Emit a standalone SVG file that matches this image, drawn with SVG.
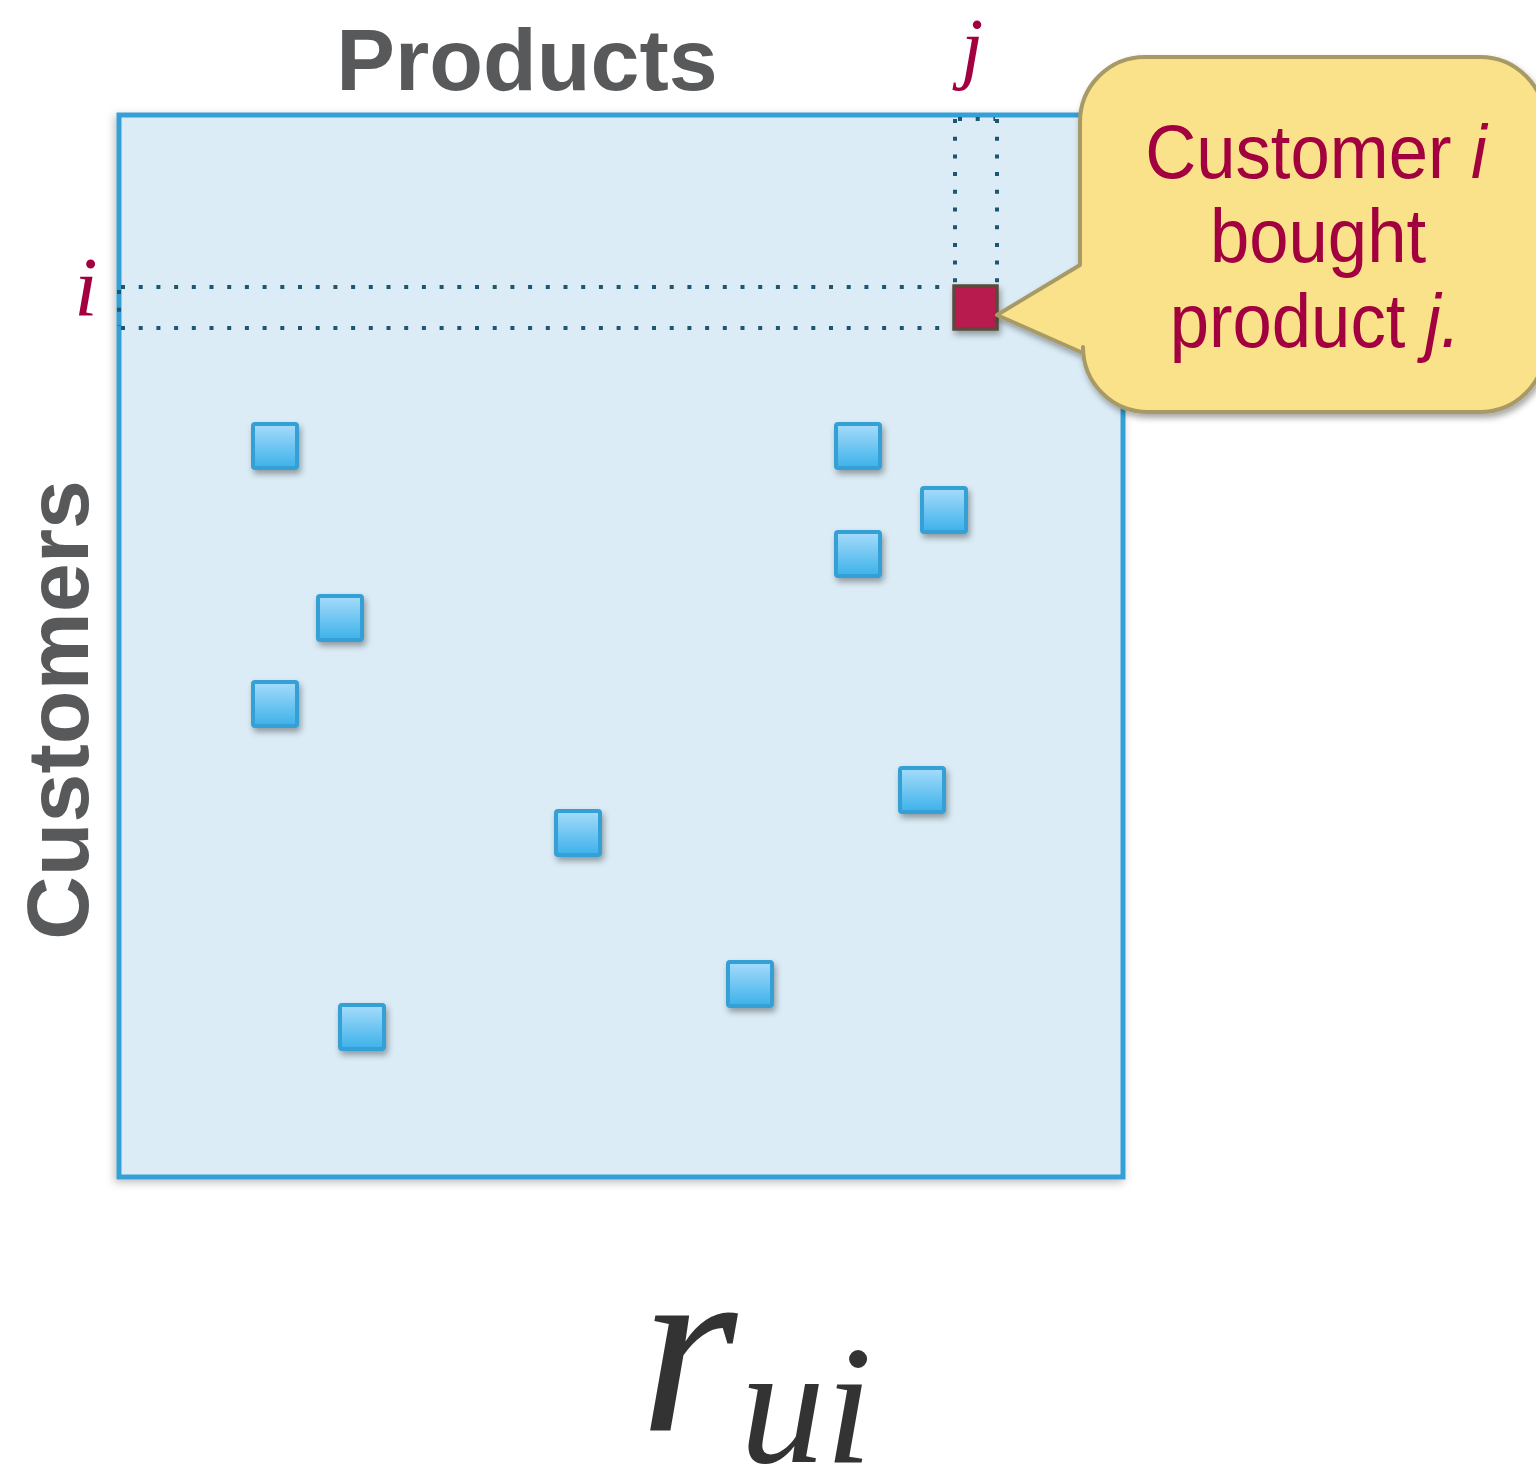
<svg xmlns="http://www.w3.org/2000/svg" xmlns:xlink="http://www.w3.org/1999/xlink" width="1536" height="1476" viewBox="0 0 1536 1476">
<defs>
<style>
.axis{font-family:"Liberation Sans",Arial,sans-serif;font-weight:bold;fill:#58595b;font-size:88px}
.math{font-family:"Liberation Serif","Times New Roman",serif;font-style:italic;fill:#a3003f}
.call{font-family:"Liberation Sans",Arial,sans-serif;fill:#a3003f;font-size:76px}
.dot{stroke:#1d5673;stroke-width:4;stroke-dasharray:4 13.7;fill:none}
.cell{fill:url(#bg);stroke:#35a0d6;stroke-width:4;filter:url(#sh)}
</style>
<linearGradient id="bg" x1="0" y1="0" x2="0" y2="1">
<stop offset="0" stop-color="#a6dcfa"/>
<stop offset="1" stop-color="#3cb1ea"/>
</linearGradient>
<filter id="sh" x="-30%" y="-30%" width="170%" height="170%">
<feDropShadow dx="2" dy="4" stdDeviation="3" flood-color="#000" flood-opacity="0.35"/>
</filter>
<filter id="sh2" x="-10%" y="-10%" width="120%" height="120%">
<feDropShadow dx="-2" dy="3" stdDeviation="4" flood-color="#000" flood-opacity="0.25"/>
</filter>
<rect id="sq" width="44" height="44" rx="2" class="cell"/>
</defs>
<rect width="1536" height="1476" fill="#fff"/>

<g id="matrix">
<rect x="119" y="115" width="1004" height="1062" fill="#dbecf6" stroke="#36a0d6" stroke-width="5" filter="url(#sh2)"/>
</g>

<g id="labels">
<text class="axis" x="527" y="90" text-anchor="middle">Products</text>
<text class="axis" transform="translate(88,710) rotate(-90)" text-anchor="middle">Customers</text>
<text class="math" x="86" y="316" font-size="84" text-anchor="middle">i</text>
<text class="math" x="972" y="74" font-size="80" text-anchor="middle">j</text>
</g>

<g id="guides">
<line class="dot" x1="121" y1="287" x2="952" y2="287"/>
<line class="dot" x1="121" y1="328" x2="952" y2="328"/>
<line class="dot" x1="119" y1="290" x2="119" y2="326"/>
<line class="dot" x1="955" y1="119" x2="955" y2="285"/>
<line class="dot" x1="997" y1="119" x2="997" y2="285"/>
<line class="dot" x1="958" y1="119" x2="995" y2="119"/>
</g>

<g id="cells">
<use xlink:href="#sq" x="253" y="424"/>
<use xlink:href="#sq" x="836" y="424"/>
<use xlink:href="#sq" x="922" y="488"/>
<use xlink:href="#sq" x="836" y="532"/>
<use xlink:href="#sq" x="318" y="596"/>
<use xlink:href="#sq" x="253" y="682"/>
<use xlink:href="#sq" x="900" y="768"/>
<use xlink:href="#sq" x="556" y="811"/>
<use xlink:href="#sq" x="728" y="962"/>
<use xlink:href="#sq" x="340" y="1005"/>
</g>

<g id="target">
<rect x="954" y="286" width="43" height="43" fill="#b81a50" stroke="#5b4b3c" stroke-width="3.5" filter="url(#sh)"/>
</g>

<g id="callout">
<path d="M1145,57 H1480 A65,65 0 0 1 1545,122 V347 A65,65 0 0 1 1480,412 H1148 A65,65 0 0 1 1083,347 V353 L997,315 L1080,265 V122 A65,65 0 0 1 1145,57 Z" fill="#f9e28a" stroke="#a89a66" stroke-width="4" stroke-linejoin="round" filter="url(#sh)"/>
<text class="call" transform="translate(1316,178) scale(0.93,1)" text-anchor="middle">Customer <tspan font-style="italic">i</tspan></text>
<text class="call" transform="translate(1318,262) scale(0.93,1)" text-anchor="middle">bought</text>
<text class="call" transform="translate(1315,347) scale(0.93,1)" text-anchor="middle">product <tspan font-style="italic">j.</tspan></text>
</g>

<g id="formula">
<text x="640" y="1430" font-family="'Liberation Serif','Times New Roman',serif" font-style="italic" font-size="250" fill="#333">r</text>
<text x="740" y="1462" font-family="'Liberation Serif','Times New Roman',serif" font-style="italic" font-size="170" fill="#333">ui</text>
</g>
</svg>
